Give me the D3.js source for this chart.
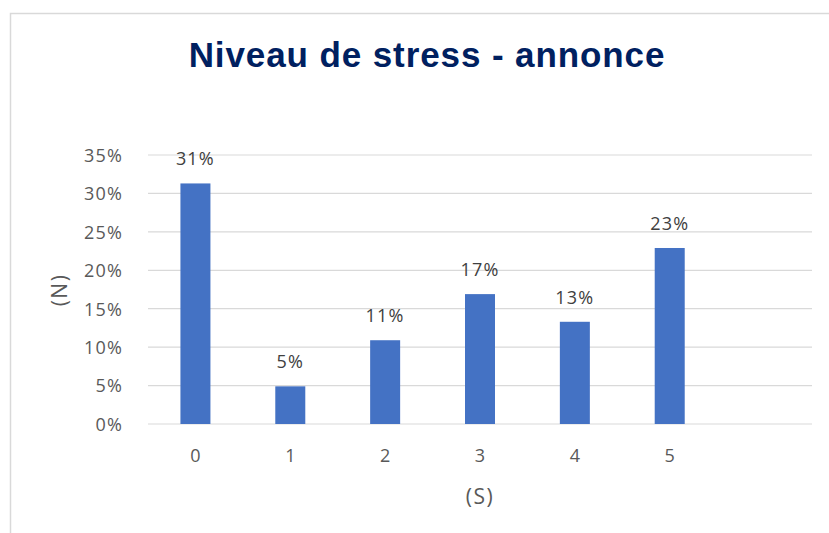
<!DOCTYPE html>
<html>
    <head>
        <meta charset="utf-8">
        <style>
            body { margin: 0; padding: 0; background: #fff; }
            svg { display: block; }
            .tick text { font-family: "Open Sans", sans-serif; font-size: 18px; fill: #595959; }
        </style>
    </head>
    <body>
        <script src="https://d3js.org/d3.v7.min.js"></script>
        <script>
            // data
            const categories = ["0", "1", "2", "3", "4", "5", ""];
            const values = [0.313, 0.049, 0.109, 0.169, 0.133, 0.229];
            const labels = ["31%", "5%", "11%", "17%", "13%", "23%"];
            const yTicks = [0, 0.05, 0.10, 0.15, 0.20, 0.25, 0.30, 0.35];

            const W = 829, H = 533;
            const plotL = 148, plotR = 812, plotT = 155, plotB = 424;

            const svg = d3.select("body").append("svg")
                .attr("width", W)
                .attr("height", H);

            // chart frame (runs off the right and bottom edges)
            svg.append("rect")
                .attr("x", 10.5).attr("y", 13.5)
                .attr("width", W).attr("height", H)
                .attr("fill", "#fff")
                .attr("stroke", "#d9d9d9")
                .attr("stroke-width", 1.5);

            svg.append("text")
                .attr("x", 427).attr("y", 67)
                .attr("text-anchor", "middle")
                .attr("font-family", "Liberation Sans, Arial, sans-serif")
                .attr("font-weight", "bold")
                .attr("font-size", 35)
                .attr("letter-spacing", 0.9)
                .attr("fill", "#002060")
                .text("Niveau de stress - annonce");

            const x = d3.scaleBand().domain(categories).range([plotL, plotR]);
            const y = d3.scaleLinear().domain([0, 0.35]).range([plotB, plotT]);

            // grid
            svg.append("g")
                .selectAll("line")
                .data(yTicks)
                .enter()
                .append("line")
                .attr("x1", plotL).attr("x2", plotR)
                .attr("y1", d => y(d)).attr("y2", d => y(d))
                .attr("stroke", "#d9d9d9")
                .attr("stroke-width", 1.2);

            const yAxis = svg.append("g")
                .attr("transform", `translate(${plotL - 22},0)`)
                .call(d3.axisLeft(y).tickValues(yTicks).tickFormat(d3.format(".0%")).tickSize(0));
            yAxis.select(".domain").remove();
            yAxis.selectAll(".tick text").attr("dy", "0.35em").attr("letter-spacing", 1.2);

            const xAxis = svg.append("g")
                .attr("transform", `translate(0,${plotB + 22})`)
                .call(d3.axisBottom(x).tickSize(0));
            xAxis.select(".domain").remove();
            xAxis.selectAll(".tick text").attr("dy", "0.71em");

            const bw = 30;
            svg.append("g")
                .selectAll("rect")
                .data(values)
                .enter()
                .append("rect")
                .attr("x", (d, i) => x(categories[i]) + x.bandwidth() / 2 - bw / 2)
                .attr("y", d => y(d))
                .attr("width", bw)
                .attr("height", d => plotB - y(d))
                .attr("fill", "#4472c4");

            svg.append("g")
                .selectAll("text")
                .data(values)
                .enter()
                .append("text")
                .attr("x", (d, i) => x(categories[i]) + x.bandwidth() / 2)
                .attr("y", d => y(d) - 18)
                .attr("text-anchor", "middle")
                .attr("font-family", "Open Sans, sans-serif")
                .attr("font-size", 18)
                .attr("letter-spacing", 1.2)
                .attr("fill", "#404040")
                .text((d, i) => labels[i]);

            svg.append("text")
                .attr("transform", "translate(67,290) rotate(-90)")
                .attr("text-anchor", "middle")
                .attr("font-family", "Open Sans, sans-serif")
                .attr("font-size", 21)
                .attr("letter-spacing", 1.5)
                .attr("fill", "#595959")
                .text("(N)");

            svg.append("text")
                .attr("x", 480).attr("y", 504)
                .attr("text-anchor", "middle")
                .attr("font-family", "Open Sans, sans-serif")
                .attr("font-size", 21)
                .attr("letter-spacing", 1.5)
                .attr("fill", "#595959")
                .text("(S)");
        </script>
    </body>
</html>
